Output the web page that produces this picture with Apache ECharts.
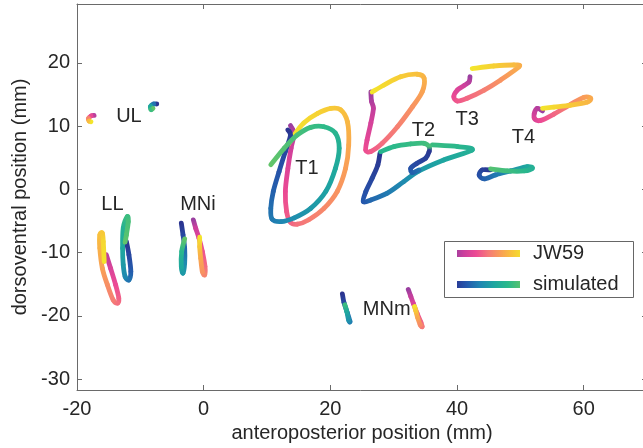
<!DOCTYPE html>
<html><head><meta charset="utf-8">
<script src="https://cdn.jsdelivr.net/npm/echarts@6/dist/echarts.min.js"></script>
<style>html,body{margin:0;padding:0;background:#fff}#c{width:643px;height:448px}</style>
</head><body><div id="c"></div>
<script>
// ---- tick values ----
const xTicks = [-20, 0, 20, 40, 60];
const yTicks = [-30, -20, -10, 0, 10, 20];

// ---- trajectories: [anteroposterior mm, dorsoventral mm, colour position 0..1] ----
const UL_JW59 = [[-17.3,11.7,0.1],[-17.8,11.6,0.3],[-18.2,11.2,0.55],[-18.1,10.8,0.8],[-17.8,10.7,1]];
const UL_SIM  = [[-7.4,13.5,0],[-7.9,13.5,0.3],[-8.4,13.1,0.6],[-8.3,12.6,0.85],[-8.0,12.8,1]];

const LL_JW59 = [[-15.37,-10.34,0.1],[-14.7,-12.45,0.22],[-13.9,-15.08,0.32],[-13.4,-17.2,0.4],[-13.6,-17.97,0.46],[-14.3,-17.45,0.52],[-15.2,-15.08,0.6],[-16.0,-12.45,0.68],[-16.4,-9.29,0.76],[-16.4,-7.18,0.82],[-16.0,-6.92,0.86],[-15.85,-8.24,0.93],[-15.7,-11.4,1]];
const LL_SIM  = [[-12.2,-8.24,0],[-11.8,-10.34,0.1],[-11.5,-12.98,0.2],[-11.8,-14.29,0.3],[-12.4,-13.77,0.4],[-12.7,-11.92,0.5],[-12.8,-9.29,0.6],[-12.7,-6.13,0.7],[-12.05,-4.29,0.85],[-11.9,-5.08,0.9],[-12.2,-7.18,0.95],[-12.4,-8.34,1]];

const MNI_JW59 = [[-1.63,-4.82,0],[-1.26,-6.13,0.15],[-0.74,-7.71,0.25],[-0.21,-9.82,0.35],[0.21,-12.19,0.45],[0.16,-13.5,0.55],[-0.21,-12.98,0.62],[-0.47,-10.87,0.72],[-0.63,-9.03,0.85],[-0.63,-7.55,1]];
const MNI_SIM  = [[-3.53,-5.34,0],[-3.26,-7.18,0.1],[-3.0,-9.29,0.25],[-3.0,-11.66,0.4],[-3.26,-13.23,0.5],[-3.53,-12.19,0.6],[-3.47,-9.82,0.75],[-3.0,-7.82,1]];

const T1_JW59 = [[13.7,10.1,0],[14.1,9.4,0.05],[14.2,8.3,0.1],[13.8,6.5,0.17],[13.3,3.3,0.24],[12.9,-0.3,0.31],[13.1,-3.5,0.37],[13.7,-5.2,0.42],[14.8,-5.5,0.47],[16.6,-4.8,0.52],[19.0,-3.0,0.57],[21.1,-0.3,0.62],[22.4,3.3,0.67],[22.9,7.0,0.72],[22.7,10.7,0.78],[21.6,12.6,0.83],[20.1,12.8,0.87],[18.0,12.0,0.91],[15.8,10.5,0.95],[14.3,8.6,0.98],[12.7,6.0,1]];
const T1_SIM  = [[13.3,9.4,0],[13.7,8.5,0.04],[12.9,6.0,0.1],[11.9,2.8,0.16],[11.0,-0.3,0.22],[10.6,-3.0,0.28],[10.8,-4.7,0.33],[12.2,-5.1,0.38],[14.3,-4.5,0.43],[16.9,-3.0,0.49],[19.3,-0.3,0.55],[20.8,3.3,0.61],[21.4,6.5,0.67],[20.8,8.9,0.73],[19.0,9.9,0.79],[16.9,9.8,0.84],[14.8,8.6,0.89],[12.7,6.5,0.94],[10.6,3.9,1]];

const T2_JW59 = [[26.4,15.4,0],[26.5,13.9,0.06],[26.8,12.8,0.12],[26.4,10.5,0.2],[25.8,7.8,0.27],[25.6,6.2,0.33],[26.4,6.0,0.38],[28.2,7.3,0.45],[30.6,9.9,0.53],[33.0,13.1,0.62],[34.5,15.4,0.69],[34.8,17.6,0.76],[33.7,18.2,0.82],[31.1,17.8,0.88],[28.5,16.5,0.94],[26.6,15.4,1]];
const T2_SIM  = [[27.84,5.72,0],[27.5,3.87,0.04],[26.6,1.77,0.09],[25.6,-0.35,0.14],[25.2,-1.92,0.18],[26.4,-1.66,0.25],[29.0,-0.6,0.33],[31.6,1.23,0.41],[34.0,2.92,0.49],[37.9,4.66,0.58],[42.4,6.24,0.68],[40.1,6.76,0.76],[36.1,7.03,0.84]];

const T3_JW59 = [[42.05,17.8,0],[41.9,17.0,0.08],[41.1,16.4,0.16],[40.05,15.7,0.24],[39.5,14.65,0.31],[40.05,13.97,0.37],[41.6,14.4,0.43],[44.3,15.7,0.52],[46.9,17.3,0.62],[49.8,19.4,0.74],[49.0,19.66,0.8],[45.8,19.5,0.9],[42.4,19.1,1]];
const T3_SIM  = [[27.95,5.97,0.74],[30.05,6.76,0.78],[32.7,7.18,0.82],[34.8,7.29,0.86],[35.6,6.76,0.9],[35.6,5.97,0.02],[35.05,4.93,0.06],[33.7,4.14,0.1],[32.7,3.35,0.15],[32.95,2.65,0.22],[34.0,3.08,0.3]];

const T4_JW59 = [[53.5,12.4,0],[52.7,12.8,0.08],[52.2,12.0,0.16],[52.3,11.1,0.24],[53.2,10.9,0.32],[55.3,11.9,0.42],[57.95,13.45,0.55],[60.05,14.55,0.66],[61.1,14.4,0.72],[60.6,13.8,0.78],[57.95,13.3,0.86],[55.3,13.0,0.93],[53.5,12.8,1]];
const T4_SIM  = [[45.3,3.08,0],[44.0,3.08,0.07],[43.5,2.29,0.14],[44.3,1.66,0.22],[46.1,2.29,0.32],[48.5,2.92,0.45],[51.1,3.6,0.6],[51.9,3.35,0.68],[50.6,2.92,0.76],[47.95,2.92,0.86],[45.3,3.24,0.95]];

const MNM_JW59 = [[32.3,-15.8,0],[32.7,-16.9,0.12],[33.1,-18.0,0.22],[33.7,-19.6,0.32],[34.3,-21.0,0.42],[34.5,-21.7,0.5],[34.2,-21.4,0.58],[33.8,-20.3,0.7],[33.5,-19.2,0.85],[33.3,-18.5,1]];
const MNM_SIM  = [[21.9,-16.5,0],[22.15,-17.87,0.1],[22.7,-19.55,0.25],[23.1,-20.87,0.35],[22.9,-20.7,0.45],[22.6,-19.3,0.6],[22.3,-18.24,0.85]];

// ---- text labels ----
const labelNames = ['UL','LL','MNi','T1','T2','T3','T4','MNm'];
const labelX = [-11.8,-14.4,-0.9,16.3,34.7,41.6,50.5,28.9];
const labelY = [11.6,-2.45,-2.45,3.3,9.3,11.0,8.2,-19.0];

const legendNames = ['JW59','simulated'];

// ---- styling ----
const FONT = "'Liberation Sans', Arial, sans-serif";
const TXT = '#262626';
const AX = '#6a6a6a';
const JW_RAMP = [[0,'#9a3fa0'],[0.15,'#cc3f9c'],[0.32,'#ec4a94'],[0.5,'#f57a78'],[0.68,'#f9a055'],[0.84,'#f8c43a'],[1,'#f3e52b']];
const SIM_RAMP = [[0,'#2b3490'],[0.18,'#2557ac'],[0.38,'#1f86b2'],[0.58,'#1ea6a0'],[0.78,'#2bb98a'],[1,'#62c46a']];

function hex2rgb(h){return [parseInt(h.slice(1,3),16),parseInt(h.slice(3,5),16),parseInt(h.slice(5,7),16)];}
function rampColor(ramp,t){
  t=Math.max(0,Math.min(1,t));
  for(let i=0;i<ramp.length-1;i++){
    const a=ramp[i],b=ramp[i+1];
    if(t<=b[0]){
      const f=(t-a[0])/(b[0]-a[0]||1);
      const ca=hex2rgb(a[1]),cb=hex2rgb(b[1]);
      return 'rgb('+ca.map((v,k)=>Math.round(v+(cb[k]-v)*f)).join(',')+')';
    }
  }
  return ramp[ramp.length-1][1];
}

const jwTrajs = [UL_JW59,LL_JW59,MNI_JW59,T1_JW59,T2_JW59,T3_JW59,T4_JW59,MNM_JW59];
const simTrajs = [UL_SIM,LL_SIM,MNI_SIM,T1_SIM,T2_SIM,T3_SIM,T4_SIM,MNM_SIM];

function makeCustom(trajs, ramp, name, z){
  return {
    type:'custom', name, coordinateSystem:'cartesian2d', xAxisIndex:0, yAxisIndex:0,
    silent:true, z, clip:false,
    data: trajs.map((t,i)=>[t[0][0],t[0][1],i]),
    encode:{x:0,y:1},
    renderItem:(params,api)=>{
      const tr = trajs[api.value(2)];
      const P = tr.map(p=>api.coord([p[0],p[1]]));
      const children=[];
      for(let i=0;i<P.length-1;i++){
        const p0=P[Math.max(i-1,0)],p1=P[i],p2=P[i+1],p3=P[Math.min(i+2,P.length-1)];
        const cp1=[p1[0]+(p2[0]-p0[0])/6,p1[1]+(p2[1]-p0[1])/6];
        const cp2=[p2[0]-(p3[0]-p1[0])/6,p2[1]-(p3[1]-p1[1])/6];
        const c1=rampColor(ramp,tr[i][2]),c2=rampColor(ramp,tr[i+1][2]);
        const d=Math.hypot(p2[0]-p1[0],p2[1]-p1[1]);
        const stroke = d<0.5 ? c1 : new echarts.graphic.LinearGradient(p1[0],p1[1],p2[0],p2[1],[{offset:0,color:c1},{offset:1,color:c2}],true);
        children.push({type:'bezierCurve',shape:{x1:p1[0],y1:p1[1],x2:p2[0],y2:p2[1],cpx1:cp1[0],cpy1:cp1[1],cpx2:cp2[0],cpy2:cp2[1]},
          style:{fill:'none',stroke,lineWidth:4.8,lineCap:'round',lineJoin:'round'}});
      }
      return {type:'group',children};
    }
  };
}

function gradStops(ramp){return ramp.map(s=>({offset:s[0],color:s[1]}));}

const chart = echarts.init(document.getElementById('c'),null,{renderer:'canvas'});
const axCommon = {
  type:'value',
  axisLine:{show:true,onZero:false,lineStyle:{color:AX,width:1}},
  splitLine:{show:false},
};
chart.setOption({
  animation:false,
  backgroundColor:'#fff',
  grid:{left:77,top:4,right:-4,bottom:58,outerBoundsMode:'none',containLabel:false},
  xAxis:[
    Object.assign({},axCommon,{min:-20,max:70,position:'bottom',
      axisTick:{show:true,inside:true,length:5,lineStyle:{color:AX},customValues:xTicks},
      axisLabel:{show:true,customValues:xTicks,fontSize:20,color:TXT,fontFamily:FONT,margin:9},
      name:'anteroposterior position (mm)',nameLocation:'middle',nameGap:33,
      nameTextStyle:{fontSize:20,color:TXT,fontFamily:FONT}}),
    Object.assign({},axCommon,{min:-20,max:70,position:'top',
      axisTick:{show:true,inside:true,length:5,lineStyle:{color:AX},customValues:xTicks},
      axisLabel:{show:false}})
  ],
  yAxis:[
    Object.assign({},axCommon,{min:-31.7,max:29.3,position:'left',
      axisTick:{show:true,inside:true,length:5,lineStyle:{color:AX},customValues:yTicks},
      axisLabel:{show:true,customValues:yTicks,fontSize:20,color:TXT,fontFamily:FONT,margin:7},
      name:'dorsoventral position (mm)',nameLocation:'middle',nameGap:47,
      nameTextStyle:{fontSize:20,color:TXT,fontFamily:FONT}}),
    Object.assign({},axCommon,{min:-31.7,max:29.3,position:'right',
      axisTick:{show:true,inside:true,length:5,lineStyle:{color:AX},customValues:yTicks},
      axisLabel:{show:false}})
  ],
  series:[
    makeCustom(jwTrajs,JW_RAMP,'JW59',2),
    makeCustom(simTrajs,SIM_RAMP,'simulated',3),
    {type:'scatter',silent:true,z:5,symbol:'circle',symbolSize:0,itemStyle:{color:'#ffffff',opacity:1},
      data:labelNames.map((n,i)=>({name:n,value:[labelX[i],labelY[i]]})),
      label:{show:true,position:'inside',formatter:p=>p.name,fontSize:20,color:TXT,fontFamily:FONT,
        textBorderWidth:0,textBorderColor:'transparent',opacity:1}}
  ],
  graphic:[
    {type:'rect',left:444,top:241,z:10,shape:{width:189,height:56},style:{fill:'#fff',stroke:'#666',lineWidth:1}},
    {type:'line',z:11,shape:{x1:457,y1:253.5,x2:520,y2:253.5},style:{lineWidth:7,stroke:new echarts.graphic.LinearGradient(0,0,1,0,gradStops(JW_RAMP))}},
    {type:'line',z:11,shape:{x1:457,y1:284.5,x2:520,y2:284.5},style:{lineWidth:7,stroke:new echarts.graphic.LinearGradient(0,0,1,0,gradStops(SIM_RAMP))}},
    {type:'text',z:11,x:533,y:253.5,style:{text:legendNames[0],fontSize:20,fill:TXT,fontFamily:FONT,textVerticalAlign:'middle',verticalAlign:'middle'}},
    {type:'text',z:11,x:533,y:284.5,style:{text:legendNames[1],fontSize:20,fill:TXT,fontFamily:FONT,textVerticalAlign:'middle',verticalAlign:'middle'}}
  ]
});
</script></body></html>
